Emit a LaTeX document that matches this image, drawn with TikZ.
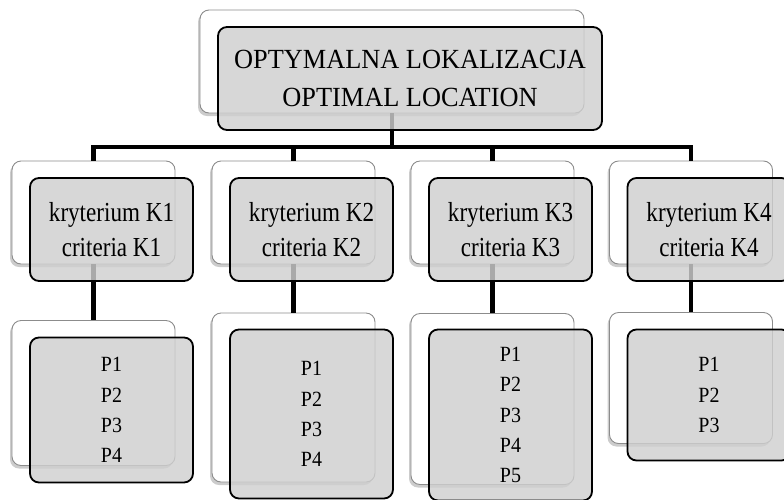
\documentclass[tikz,border=0pt]{standalone}
\usepackage{fontspec}
\setmainfont{Liberation Serif}
\newfontfamily\topfont[FakeStretch=0.95]{Liberation Serif}
\newfontfamily\critfont[FakeStretch=0.84]{Liberation Serif}
\newfontfamily\pfont[FakeStretch=0.92]{Liberation Serif}
\usetikzlibrary{shadows}
\tikzset{
  backbox/.style={draw=black!45, line width=0.9pt, fill=white, rounded corners=9pt,
    inner sep=0pt, drop shadow={shadow xshift=-2pt, shadow yshift=-3pt, opacity=0.4}},
  frontbox/.style={draw=black, line width=1.8pt, rounded corners=9pt, inner sep=0pt,
    fill=black!19, fill opacity=0.82, text opacity=1, align=center},
  conn/.style={draw=black, line width=4.5pt},
  toptext/.style={font=\topfont\fontsize{27.7}{37.4}\selectfont},
  crittext/.style={font=\critfont\fontsize{27.5}{35.6}\selectfont},
  ptext/.style={font=\pfont\fontsize{21.7}{30.2}\selectfont}
}
\begin{document}
\begin{tikzpicture}[x=1pt,y=-1pt]
\useasboundingbox (0,0) rectangle (784,499);
\clip (0,0) rectangle (784,499);
% back boxes
\node[backbox, minimum width=384pt, minimum height=103pt] (topb) at (392,61.5) {};
\node[backbox, minimum width=163pt, minimum height=103pt] (k1b) at (93.5,212.5) {};
\node[backbox, minimum width=163pt, minimum height=103pt] (k2b) at (293.5,212.5) {};
\node[backbox, minimum width=163pt, minimum height=103pt] (k3b) at (492.5,212.5) {};
\node[backbox, minimum width=163pt, minimum height=103pt] (k4b) at (691,212.5) {};
\node[backbox, minimum width=163pt, minimum height=145pt] (p1b) at (93.5,393) {};
\node[backbox, minimum width=163pt, minimum height=169pt] (p2b) at (293.5,397.5) {};
\node[backbox, minimum width=163pt, minimum height=171pt] (p3b) at (492.5,399) {};
\node[backbox, minimum width=163pt, minimum height=131pt] (p4b) at (691,378) {};
% connectors
\coordinate (bary) at (0,147);
\draw[conn] (topb.south) -- (topb.south |- bary);
\draw[conn] (k1b.north) -- (k1b.north |- bary) -- (k4b.north |- bary) -- (k4b.north);
\draw[conn] (k2b.north) -- (k2b.north |- bary);
\draw[conn] (k3b.north) -- (k3b.north |- bary);
\draw[conn] (k1b.south) -- (p1b.north);
\draw[conn] (k2b.south) -- (p2b.north);
\draw[conn] (k3b.south) -- (p3b.north);
\draw[conn] (k4b.south) -- (p4b.north);
% front boxes
\node[frontbox, toptext, minimum width=384pt, minimum height=103pt] (topf) at (410,78.5)
  {OPTYMALNA LOKALIZACJA\\OPTIMAL LOCATION};
\node[frontbox, crittext, minimum width=163pt, minimum height=103pt] (k1f) at (111.5,229.5)
  {kryterium K1\\criteria K1};
\node[frontbox, crittext, minimum width=163pt, minimum height=103pt] (k2f) at (311.5,229.5)
  {kryterium K2\\criteria K2};
\node[frontbox, crittext, minimum width=163pt, minimum height=103pt] (k3f) at (510.5,229.5)
  {kryterium K3\\criteria K3};
\node[frontbox, crittext, minimum width=163pt, minimum height=103pt] (k4f) at (709,229.5)
  {kryterium K4\\criteria K4};
\node[frontbox, ptext, minimum width=163pt, minimum height=145pt] (p1f) at (111.5,410)
  {P1\\P2\\P3\\P4};
\node[frontbox, ptext, minimum width=163pt, minimum height=169pt] (p2f) at (311.5,414)
  {P1\\P2\\P3\\P4};
\node[frontbox, ptext, minimum width=163pt, minimum height=171pt] (p3f) at (510.5,415)
  {P1\\P2\\P3\\P4\\P5};
\node[frontbox, ptext, minimum width=163pt, minimum height=131pt] (p4f) at (709,395)
  {P1\\P2\\P3};
\end{tikzpicture}
\end{document}
